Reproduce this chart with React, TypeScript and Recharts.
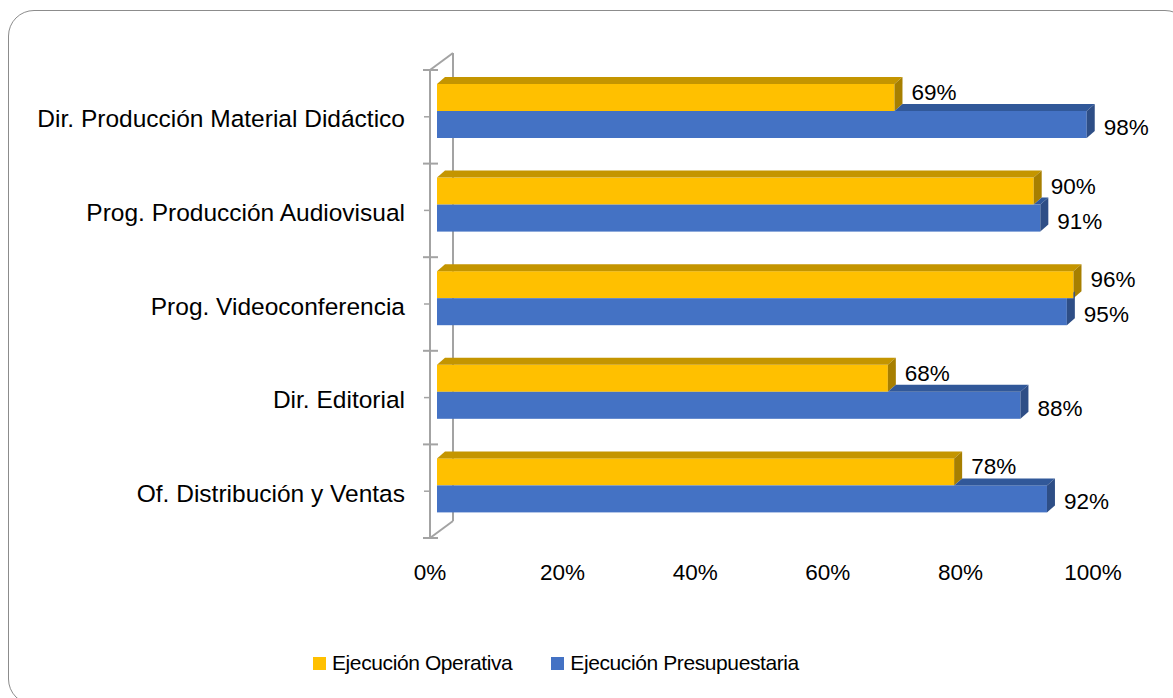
import { Bar, BarChart, Customized, LabelList, Legend, XAxis, YAxis } from "recharts";

const CATEGORIES = [
  "Dir. Producción Material Didáctico",
  "Prog. Producción Audiovisual",
  "Prog. Videoconferencia",
  "Dir. Editorial",
  "Of. Distribución y Ventas",
];
const OPERATIVA = [69, 90, 96, 68, 78];
const PRESUPUESTARIA = [98, 91, 95, 88, 92];
const X_TICKS = [0, 20, 40, 60, 80, 100];

const data = CATEGORIES.map((name, i) => ({
  name,
  operativa: OPERATIVA[i],
  presupuestaria: PRESUPUESTARIA[i],
}));

const W = 1173;
const H = 698;
const MARGIN = { top: 70, right: 80, bottom: 120, left: 0 };
const Y_AXIS_W = 430;
const X_AXIS_H = 40;
const PLOT_LEFT = MARGIN.left + Y_AXIS_W;
const PLOT_TOP = MARGIN.top;
const PLOT_BOTTOM = H - MARGIN.bottom - X_AXIS_H;

// 3d look: bars sit a bit behind the front plane, and have a depth
const SHIFT_X = 7;
const SHIFT_Y = -6;
const DX = 8;
const DY = 7;
const WALL_DX = 23;
const WALL_DY = 17;

const YELLOW = { front: "#FFC000", top: "#C49500", side: "#A77F00" };
const BLUE = { front: "#4472C4", top: "#315899", side: "#2E4E86" };
const WALL = "#a3a3a3";

function OperativaShape(props: any) {
  const { x, y, width: w, height: h } = props;
  const X = x + SHIFT_X;
  const Y = y + SHIFT_Y;
  return (
    <g>
      <rect x={X} y={Y} width={w} height={h} fill={YELLOW.front} />
      <polygon
        points={`${X},${Y} ${X + DX},${Y - DY} ${X + w + DX},${Y - DY} ${X + w},${Y}`}
        fill={YELLOW.top}
      />
      <polygon
        points={`${X + w},${Y} ${X + w + DX},${Y - DY} ${X + w + DX},${Y + h - DY} ${X + w},${Y + h}`}
        fill={YELLOW.side}
      />
    </g>
  );
}

// the blue bar lies right under the yellow one, so its top is hidden where the yellow bar is
function PresupuestariaShape(props: any) {
  const { x, y, width: w, height: h, payload } = props;
  const X = x + SHIFT_X;
  const Y = y + SHIFT_Y;
  const wy = (w * payload.operativa) / payload.presupuestaria;
  const xe = X + wy; // end of yellow front
  const xb = X + w;
  let side: string;
  if (xe <= xb) {
    side = `${xb},${Y} ${xb + DX},${Y - DY} ${xb + DX},${Y + h - DY} ${xb},${Y + h}`;
  } else if (xe >= xb + DX) {
    side = `${xb},${Y} ${xb + DX},${Y} ${xb + DX},${Y + h - DY} ${xb},${Y + h}`;
  } else {
    const ey = Y - ((xe - xb) * DY) / DX;
    side = `${xb},${Y} ${xe},${Y} ${xe},${ey} ${xb + DX},${Y - DY} ${xb + DX},${Y + h - DY} ${xb},${Y + h}`;
  }
  return (
    <g>
      <rect x={X} y={Y} width={w} height={h} fill={BLUE.front} />
      {xe < xb && (
        <polygon
          points={`${xe},${Y} ${xe + DX},${Y - DY} ${xb + DX},${Y - DY} ${xb},${Y}`}
          fill={BLUE.top}
        />
      )}
      <polygon points={side} fill={BLUE.side} />
    </g>
  );
}

const makeLabel = (dy: number) => (props: any) => {
  const { x, y, width, height, value } = props;
  return (
    <text
      x={x + width + SHIFT_X + 17}
      y={y + height / 2 + SHIFT_Y + dy}
      fontSize={22.5}
      fill="#000"
      dominantBaseline="central"
    >
      {value}%
    </text>
  );
};

function Walls() {
  const n = CATEGORIES.length;
  const step = (PLOT_BOTTOM - PLOT_TOP) / n;
  const bx = PLOT_LEFT + WALL_DX;
  return (
    <g stroke={WALL} strokeWidth={2} fill="none">
      <line x1={bx} y1={PLOT_TOP - WALL_DY} x2={bx} y2={PLOT_BOTTOM - WALL_DY} />
      <line x1={PLOT_LEFT} y1={PLOT_TOP} x2={bx} y2={PLOT_TOP - WALL_DY} />
      <line x1={PLOT_LEFT} y1={PLOT_BOTTOM} x2={bx} y2={PLOT_BOTTOM - WALL_DY} />
      {Array.from({ length: n + 1 }, (_, i) => (
        <line
          key={i}
          x1={PLOT_LEFT - 7}
          x2={PLOT_LEFT + 8}
          y1={PLOT_TOP + i * step}
          y2={PLOT_TOP + i * step}
        />
      ))}
    </g>
  );
}

function CategoryTick(props: any) {
  const { x, y, payload } = props;
  return (
    <text x={x} y={y + 2} textAnchor="end" dominantBaseline="central" fontSize={24.5} fill="#000">
      {payload.value}
    </text>
  );
}

function LegendContent(props: any) {
  const items = props.payload || [];
  return (
    <div
      style={{ display: "flex", alignItems: "center", fontSize: 21, letterSpacing: -0.4, color: "#000" }}
    >
      {items.map((it: any, i: number) => (
        <div
          key={it.value}
          style={{ display: "flex", alignItems: "center", marginLeft: i ? 39 : 0 }}
        >
          <span
            style={{ width: 13, height: 13, background: it.color, display: "inline-block", marginRight: 6 }}
          />
          <span>{it.value}</span>
        </div>
      ))}
    </div>
  );
}

export default function App() {
  return (
    <div
      style={{
        position: "fixed",
        left: 0,
        top: 0,
        width: W,
        height: H,
        overflow: "hidden",
        background: "#fff",
        fontFamily: '"Liberation Sans", Arial, sans-serif',
      }}
    >
      <div
        style={{
          position: "absolute",
          left: 8,
          top: 10,
          width: 1181,
          height: 693,
          border: "1.5px solid #8c8c8c",
          borderRadius: 26,
        }}
      />
      <div style={{ position: "absolute", left: 0, top: 0 }}>
        <BarChart
          width={W}
          height={H}
          data={data}
          layout="vertical"
          margin={MARGIN}
          barSize={27}
          barGap={0}
        >
          <Customized component={<Walls />} />
          <XAxis
            type="number"
            domain={[0, 100]}
            ticks={X_TICKS}
            interval={0}
            tickFormatter={(v) => `${v}%`}
            axisLine={false}
            tickLine={false}
            tickSize={0}
            tickMargin={26}
            height={X_AXIS_H}
            tick={{ fontSize: 22.5, fill: "#000" }}
          />
          <YAxis
            type="category"
            dataKey="name"
            width={Y_AXIS_W}
            interval={0}
            axisLine={{ stroke: WALL, strokeWidth: 2 }}
            tickLine={{ stroke: WALL, strokeWidth: 1.5 }}
            tickSize={6}
            tickMargin={19}
            tick={<CategoryTick />}
          />
          <Legend
            layout="horizontal"
            verticalAlign="middle"
            align="center"
            wrapperStyle={{ top: 651, left: 313, width: "auto" }}
            content={<LegendContent />}
          />
          <Bar
            dataKey="operativa"
            name="Ejecución Operativa"
            fill={YELLOW.front}
            shape={<OperativaShape />}
            isAnimationActive={false}
          >
            <LabelList dataKey="operativa" content={makeLabel(-5)} />
          </Bar>
          <Bar
            dataKey="presupuestaria"
            name="Ejecución Presupuestaria"
            fill={BLUE.front}
            shape={<PresupuestariaShape />}
            isAnimationActive={false}
          >
            <LabelList dataKey="presupuestaria" content={makeLabel(3)} />
          </Bar>
        </BarChart>
      </div>
    </div>
  );
}
